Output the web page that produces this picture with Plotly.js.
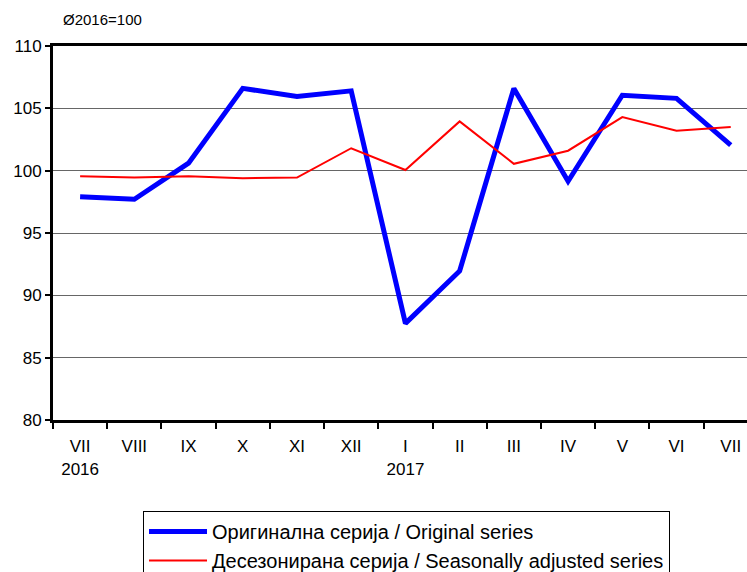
<!DOCTYPE html>
<html>
<head>
<meta charset="utf-8">
<script src="https://cdn.plot.ly/plotly-3.0.1.min.js"></script>
<style>
  body { margin: 0; background: #fff; }
  #chart { width: 747px; height: 572px; }
</style>
</head>
<body>
<div id="chart"></div>
<script>
// months July 2016 - July 2017
var months = ['VII', 'VIII', 'IX', 'X', 'XI', 'XII', 'I', 'II', 'III', 'IV', 'V', 'VI', 'VII'];
var years = ['2016', '', '', '', '', '', '2017', '', '', '', '', '', ''];

// index values, average 2016 = 100
var original = [97.9, 97.7, 100.6, 106.6, 105.95, 106.4, 87.75, 91.95, 106.6, 99.15, 106.05, 105.8, 102.05];
var adjusted = [99.55, 99.45, 99.55, 99.4, 99.45, 101.8, 100.05, 103.95, 100.55, 101.6, 104.3, 103.2, 103.5];

var labels = months.map(function (m, i) {
    return years[i] ? m + '<br>' + years[i] : m;
});

var originalSeries = {
    x: labels,
    y: original,
    type: 'scatter',
    mode: 'lines',
    name: 'Оригинална серија / Original series',
    legendgroup: 'a',
    line: {color: '#0000FF', width: 5}
};

var adjustedSeries = {
    x: labels,
    y: adjusted,
    type: 'scatter',
    mode: 'lines',
    name: 'Десезонирана серија / Seasonally adjusted series',
    legendgroup: 'b',
    line: {color: '#FF0000', width: 2}
};

var layout = {
    width: 747,
    height: 572,
    margin: {l: 53, r: 0, t: 46, b: 152, autoexpand: false},
    paper_bgcolor: '#fff',
    plot_bgcolor: '#fff',
    font: {family: 'Arial, "Liberation Sans", sans-serif', size: 17, color: '#000'},
    showlegend: true,
    xaxis: {
        type: 'category',
        range: [-0.5, 12.3],
        showline: true,
        linecolor: '#000',
        linewidth: 3,
        mirror: true,
        ticks: 'outside',
        tickson: 'boundaries',
        ticklen: 6,
        tickwidth: 2,
        tickcolor: '#000',
        showgrid: false,
        tickangle: 0,
        ticklabelstandoff: 9,
        tickfont: {size: 17},
        automargin: false,
        fixedrange: true
    },
    yaxis: {
        range: [80, 110],
        tick0: 80,
        dtick: 5,
        showline: true,
        linecolor: '#000',
        linewidth: 3,
        ticks: 'outside',
        ticklen: 5,
        tickwidth: 2,
        tickcolor: '#000',
        showgrid: true,
        gridcolor: '#666',
        gridwidth: 1,
        zeroline: false,
        tickfont: {size: 17},
        automargin: false,
        fixedrange: true
    },
    legend: {
        x: 0.1297,
        y: -0.243,
        xanchor: 'left',
        yanchor: 'top',
        bgcolor: '#fff',
        bordercolor: '#000',
        borderwidth: 1,
        traceorder: 'grouped',
        tracegroupgap: 0,
        itemwidth: 58,
        font: {size: 20}
    },
    annotations: [{
        text: 'Ø2016=100',
        xref: 'paper',
        yref: 'paper',
        x: 0.011,
        y: 1.07,
        xanchor: 'left',
        yanchor: 'middle',
        showarrow: false,
        font: {size: 15}
    }]
};

Plotly.newPlot('chart', [originalSeries, adjustedSeries], layout, {displayModeBar: false, staticPlot: true});
</script>
</body>
</html>
